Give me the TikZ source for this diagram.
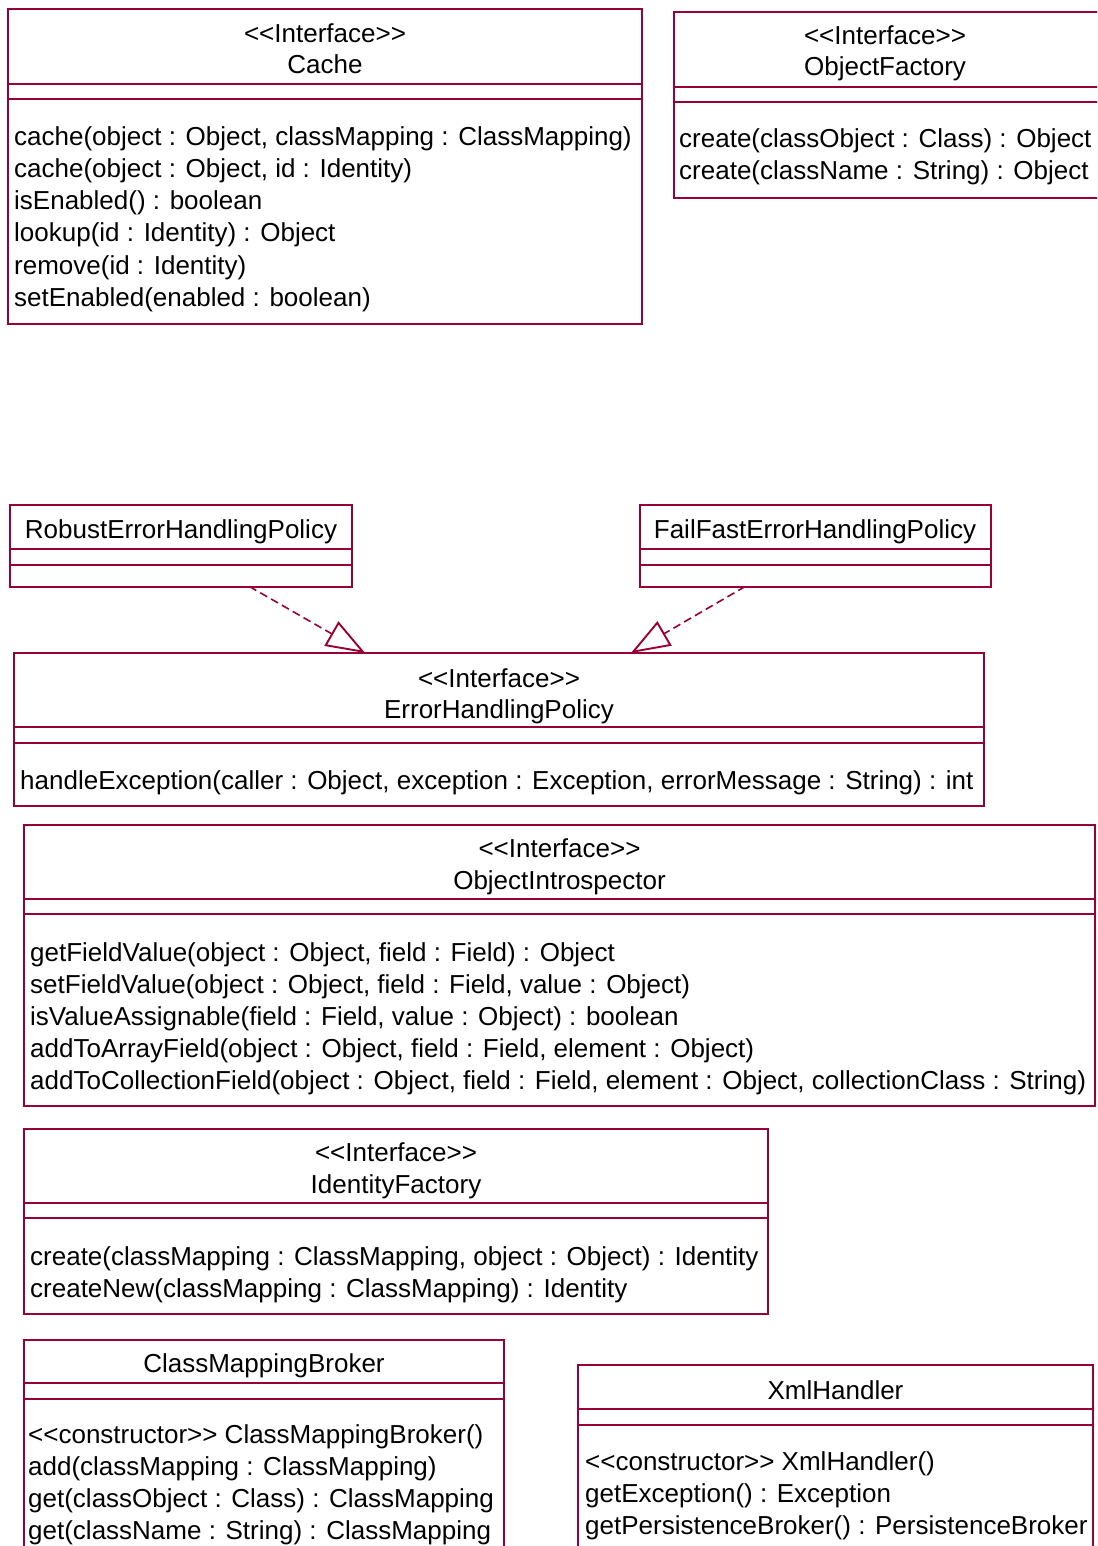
\documentclass[tikz,border=0pt]{standalone}
\usepackage{fontspec}
\setmainfont{Liberation Sans}
\usetikzlibrary{arrows.meta,calc}

\definecolor{umlred}{RGB}{153,0,51}
\newcommand\umlfont{\fontsize{26}{32}\selectfont}

% class box from its top-left (x1,y1) to bottom-right (x2,y2), y growing downwards
\newcommand\umlbox[5]{%
  \node[classbox, minimum width={#4pt-#2pt}, minimum height={#5pt-#3pt}]
    (#1) at ({(#2+#4)/2},{(#3+#5)/2}) {};}
% horizontal compartment separator, #2 below the top edge of box #1
\newcommand\compsep[2]{%
  \draw[classline] ([yshift=-#2pt]#1.north west) -- ([yshift=-#2pt]#1.north east);}
% list of operations, first baseline at (#2,#3), 32 units apart
\newcommand\opers[4]{%
  \foreach \t [count=\i] in {#4} {\node[oper] (#1-m\i) at (#2,{#3+32*(\i-1)}) {\t};}}
\newcommand\stereo{{<}{<}Interface{>}{>}}

\begin{document}
\begin{tikzpicture}[x=1pt,y=-1pt,
  classbox/.style={draw=umlred, line width=2pt, inner sep=0pt, outer sep=0pt, rectangle},
  classline/.style={draw=umlred, line width=2pt},
  title/.style={font=\umlfont, anchor=base, inner sep=0pt},
  oper/.style={font=\umlfont, anchor=base west, inner sep=0pt},
  realizes/.style={draw=umlred, line width=1.6pt, dash pattern=on 8pt off 4.5pt,
    -{Triangle[open, length=39pt, width=28pt, line width=1.9pt]}}]
\clip (0,0) rectangle (1097,1546);
\fill[white] (0,0) rectangle (1097,1546);

% Cache
\umlbox{cache}{8}{9}{642}{324}
\compsep{cache}{75}\compsep{cache}{90.5}
\node[title] (cache-st) at (325,42.5) {\stereo};
\node[title] (cache-nm) at (325,74) {Cache};
\opers{cache}{14}{146}{{cache(object : Object, classMapping : ClassMapping)},
  {cache(object : Object, id : Identity)},
  {isEnabled() : boolean},
  {lookup(id : Identity) : Object},
  {remove(id : Identity)},
  {setEnabled(enabled : boolean)}}

% ObjectFactory
\umlbox{objf}{674}{12}{1104}{198}
\compsep{objf}{75}\compsep{objf}{90}
\node[title] (objf-st) at (885,44.5) {\stereo};
\node[title] (objf-nm) at (885,75.5) {ObjectFactory};
\opers{objf}{679}{148}{{create(classObject : Class) : Object},
  {create(className : String) : Object}}

% RobustErrorHandlingPolicy
\umlbox{robust}{10}{504.5}{352}{586.5}
\compsep{robust}{44.5}\compsep{robust}{60}
\node[title] (robust-nm) at (181,538.5) {RobustErrorHandlingPolicy};

% FailFastErrorHandlingPolicy
\umlbox{failfast}{640}{504.5}{990.5}{586.5}
\compsep{failfast}{44.5}\compsep{failfast}{60}
\node[title] (failfast-nm) at (815,538.5) {FailFastErrorHandlingPolicy};

% ErrorHandlingPolicy
\umlbox{ehp}{14}{653}{984}{806}
\compsep{ehp}{74}\compsep{ehp}{89.5}
\node[title] (ehp-st) at (499,687.5) {\stereo};
\node[title] (ehp-nm) at (499,718.5) {ErrorHandlingPolicy};
\opers{ehp}{20}{789}{{handleException(caller : Object, exception : Exception, errorMessage : String) : int}}

% ObjectIntrospector
\umlbox{oi}{24}{825}{1095}{1106}
\compsep{oi}{73.5}\compsep{oi}{89}
\node[title] (oi-st) at (559.5,857) {\stereo};
\node[title] (oi-nm) at (559.5,889) {ObjectIntrospector};
\opers{oi}{30}{961}{{getFieldValue(object : Object, field : Field) : Object},
  {setFieldValue(object : Object, field : Field, value : Object)},
  {isValueAssignable(field : Field, value : Object) : boolean},
  {addToArrayField(object : Object, field : Field, element : Object)},
  {addToCollectionField(object : Object, field : Field, element : Object, collectionClass : String)}}

% IdentityFactory
\umlbox{idf}{24}{1129}{768}{1314}
\compsep{idf}{73.5}\compsep{idf}{89}
\node[title] (idf-st) at (396,1161) {\stereo};
\node[title] (idf-nm) at (396,1193) {IdentityFactory};
\opers{idf}{30}{1265}{{create(classMapping : ClassMapping, object : Object) : Identity},
  {createNew(classMapping : ClassMapping) : Identity}}

% ClassMappingBroker
\umlbox{cmb}{24}{1339.5}{504}{1570}
\compsep{cmb}{43.5}\compsep{cmb}{59.5}
\node[title] (cmb-nm) at (264,1372.5) {ClassMappingBroker};
\opers{cmb}{28}{1443}{{{<}{<}constructor{>}{>} ClassMappingBroker()},
  {add(classMapping : ClassMapping)},
  {get(classObject : Class) : ClassMapping},
  {get(className : String) : ClassMapping}}

% XmlHandler
\umlbox{xml}{578}{1365}{1093}{1570}
\compsep{xml}{44}\compsep{xml}{60}
\node[title] (xml-nm) at (835.5,1399) {XmlHandler};
\opers{xml}{585}{1470}{{{<}{<}constructor{>}{>} XmlHandler()},
  {getException() : Exception},
  {getPersistenceBroker() : PersistenceBroker}}

% realizations of ErrorHandlingPolicy
\draw[realizes] ($(robust.south west)!0.70!(robust.south east)$)
  -- ($(ehp.north west)!0.362!(ehp.north east)$);
\draw[realizes] ($(failfast.south west)!0.30!(failfast.south east)$)
  -- ($(ehp.north west)!0.636!(ehp.north east)$);
\end{tikzpicture}
\end{document}
